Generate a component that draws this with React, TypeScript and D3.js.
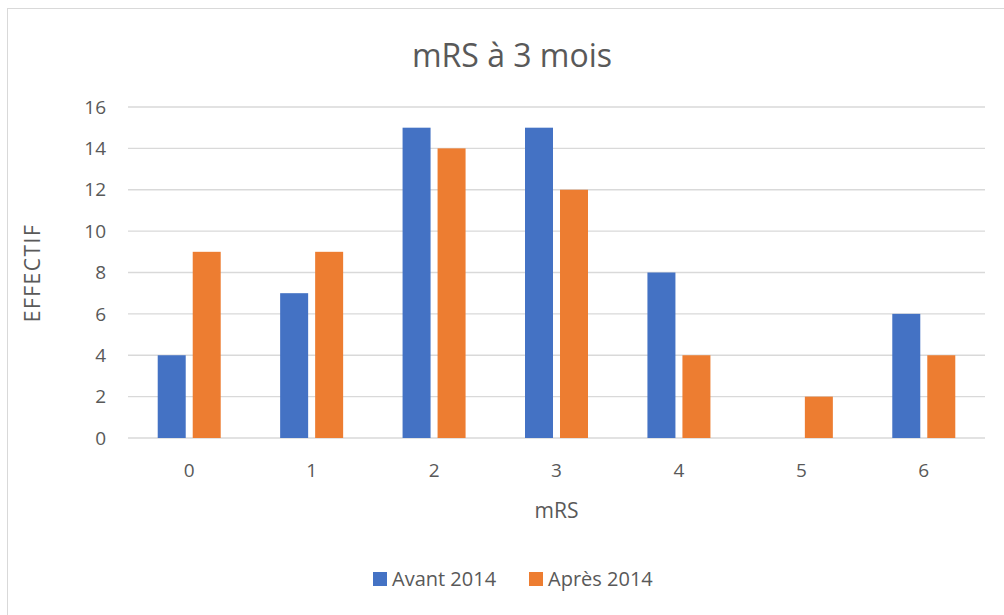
import React, { useEffect, useRef } from 'react';
import * as d3 from 'd3';

const categories = ['0', '1', '2', '3', '4', '5', '6'];
const avant = [4, 7, 15, 15, 8, 0, 6];
const apres = [9, 9, 14, 12, 4, 2, 4];
const seriesNames = ['Avant 2014', 'Après 2014'];
const colors = ['#4472C4', '#ED7D31'];
const yTicks = [0, 2, 4, 6, 8, 10, 12, 14, 16];

const W = 1004, H = 615;
const font = '"Open Sans", "Liberation Sans", sans-serif';

export default function App() {
  const ref = useRef<SVGSVGElement>(null);

  useEffect(() => {
    const svg = d3.select(ref.current);
    svg.selectAll('*').remove();

    svg.append('rect')
      .attr('x', 7.5).attr('y', 8.5)
      .attr('width', W).attr('height', H)
      .attr('fill', 'white').attr('stroke', '#d9d9d9');

    const left = 128, right = 985, top = 107, bottom = 438;

    const x = d3.scaleBand().domain(categories).range([left, right]);
    const y = d3.scaleLinear().domain([0, 16]).range([bottom, top]);

    // gridlines
    svg.selectAll('.grid').data(yTicks).join('line')
      .attr('class', 'grid')
      .attr('x1', left).attr('x2', right)
      .attr('y1', d => y(d)).attr('y2', d => y(d))
      .attr('stroke', '#d9d9d9').attr('stroke-width', 1.3);

    // y tick labels
    svg.selectAll('.ylab').data(yTicks).join('text')
      .attr('class', 'ylab')
      .attr('x', 106).attr('y', d => y(d))
      .attr('dy', '0.35em')
      .attr('text-anchor', 'end')
      .style('font-family', font).style('font-size', '19px')
      .attr('fill', '#595959')
      .text(d => d);

    // x tick labels
    svg.selectAll('.xlab').data(categories).join('text')
      .attr('class', 'xlab')
      .attr('x', d => (x(d) as number) + x.bandwidth() / 2)
      .attr('y', 477)
      .attr('text-anchor', 'middle')
      .style('font-family', font).style('font-size', '19px')
      .attr('fill', '#595959')
      .text(d => d);

    const barW = 28, gap = 7;
    const series = [avant, apres];
    series.forEach((vals, si) => {
      svg.selectAll('.bar' + si).data(vals).join('rect')
        .attr('class', 'bar' + si)
        .attr('x', (d, i) => {
          const c = (x(categories[i]) as number) + x.bandwidth() / 2;
          return si === 0 ? c - gap / 2 - barW : c + gap / 2;
        })
        .attr('y', d => y(d))
        .attr('width', barW)
        .attr('height', d => y(0) - y(d))
        .attr('fill', colors[si]);
    });

    // title
    svg.append('text')
      .attr('x', 512).attr('y', 67)
      .attr('text-anchor', 'middle')
      .style('font-family', font).style('font-size', '32px')
      .attr('fill', '#595959')
      .text('mRS à 3 mois');

    // axis titles
    svg.append('text')
      .attr('transform', 'translate(40, 273) rotate(-90)')
      .attr('text-anchor', 'middle')
      .style('font-family', font).style('font-size', '21px')
      .style('letter-spacing', '1.5px')
      .attr('fill', '#595959')
      .text('EFFECTIF');

    svg.append('text')
      .attr('x', (left + right) / 2).attr('y', 518)
      .attr('text-anchor', 'middle')
      .style('font-family', font).style('font-size', '21px')
      .attr('fill', '#595959')
      .text('mRS');

    // legend
    const legendX = [373, 529];
    seriesNames.forEach((name, i) => {
      svg.append('rect')
        .attr('x', legendX[i]).attr('y', 572)
        .attr('width', 14).attr('height', 14)
        .attr('fill', colors[i]);
      svg.append('text')
        .attr('x', legendX[i] + 19).attr('y', 586)
        .style('font-family', font).style('font-size', '20px')
        .attr('fill', '#595959')
        .text(name);
    });
  }, []);

  return (
    <svg ref={ref} width={W} height={H}
      style={{ position: 'absolute', left: 0, top: 0, background: 'white' }} />
  );
}
